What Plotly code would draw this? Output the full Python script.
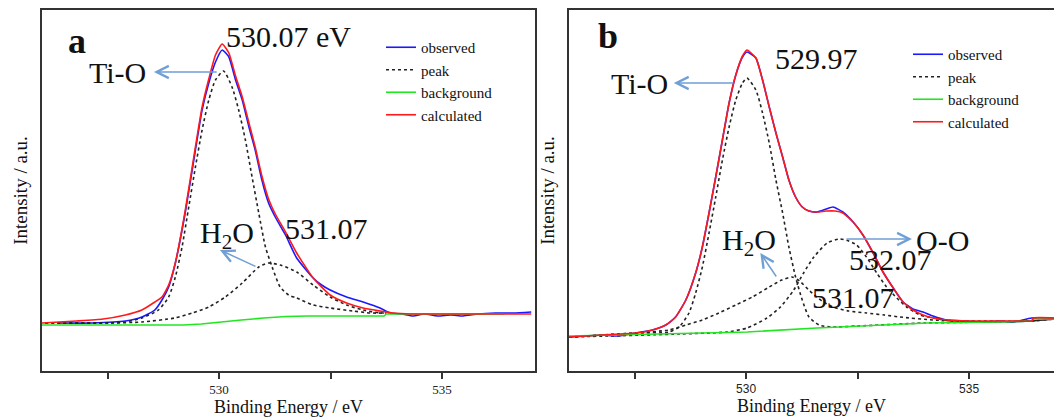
import plotly.graph_objects as go

# ---------------- Panel a data (Binding energy eV, intensity a.u.) ----------------
a_obs_x = [526.4, 527.15, 527.9, 528.27, 528.56, 528.72, 528.87, 529.02, 529.24, 529.47, 529.62, 529.77,
           529.92, 530.07, 530.22, 530.37, 530.52, 530.67, 530.81, 530.96, 531.11, 531.26, 531.49, 531.74,
           532.11, 532.3, 532.49, 532.86, 533.23, 533.61, 533.83, 534.1, 534.35, 534.6, 534.9, 535.2,
           535.47, 535.8, 536.2, 536.6, 537.0]
a_obs_y = [48, 48, 50, 54, 61, 71, 84, 108, 158, 221, 261, 288,
           309, 321, 314, 291, 271, 244, 221, 191, 168, 154, 136, 113,
           93, 86, 81, 74, 69, 63, 58, 57, 55, 57, 55, 56,
           55, 57, 58, 58, 59]

a_calc_x = [526.03, 526.8, 527.4, 527.9, 528.27, 528.56, 528.72, 528.87, 529.02, 529.24, 529.47, 529.62,
            529.77, 529.92, 530.07, 530.22, 530.37, 530.52, 530.67, 530.81, 530.96, 531.11, 531.26, 531.49,
            531.74, 532.11, 532.49, 532.86, 533.23, 533.61, 533.9, 534.3, 535.0, 536.0, 537.0]
a_calc_y = [48, 50, 52, 56, 61, 69, 74, 86, 108, 160, 224, 264,
            292, 316, 327, 318, 295, 274, 248, 224, 195, 172, 157, 139,
            118, 93, 76, 68, 63, 60, 58, 57, 57, 57, 57]

a_bg_x = [526.03, 529.2, 529.6, 530.0, 530.5, 531.0, 531.5, 532.0, 533.7, 533.75, 536.4]
a_bg_y = [46, 46, 47, 49, 51, 53, 54.5, 55, 55, 57, 57]

a_tio_x = [526.1, 527.53, 527.9, 528.27, 528.64, 528.87, 529.02, 529.17, 529.32, 529.47, 529.62, 529.77,
           529.92, 530.1, 530.29, 530.44, 530.59, 530.74, 530.89, 531.04, 531.19, 531.37, 531.56, 531.74,
           532.11, 532.49, 533.0, 533.4, 533.75]
a_tio_y = [48, 48, 49, 53, 61, 74, 94, 124, 164, 204, 241, 271,
           291, 300, 284, 261, 231, 194, 158, 124, 104, 84, 76, 73,
           66, 63, 60, 58, 58]

a_h2o_x = [526.1, 527.53, 528.27, 529.0, 529.4, 529.77, 530.14, 530.52, 530.89, 531.1, 531.37, 531.74,
           532.11, 532.49, 532.86, 533.23, 533.61, 533.75]
a_h2o_y = [48, 48, 49, 53, 58, 64, 74, 88, 104, 108, 106, 99,
           86, 74, 66, 61, 58, 58]

# ---------------- Panel b data ----------------
b_obs_x = [526.03, 526.4, 526.78, 527.1, 527.53, 527.9, 528.2, 528.42, 528.65, 528.87, 529.02, 529.17,
           529.32, 529.47, 529.62, 529.77, 529.92, 530.02, 530.22, 530.37, 530.52, 530.67, 530.82, 530.96,
           531.11, 531.26, 531.41, 531.59, 531.8, 531.95, 532.17, 532.4, 532.62, 532.85, 533.07, 533.3,
           533.52, 533.74, 533.97, 534.19, 534.5, 534.9, 535.3, 535.7, 536.0, 536.4, 536.9]
b_obs_y = [34, 35, 36, 35, 38, 41, 46, 54, 71, 98, 124, 158,
           194, 231, 268, 296, 314, 319, 313, 291, 264, 238, 214, 191,
           174, 164, 160, 159, 162, 164, 159, 149, 136, 118, 99, 83,
           69, 62, 59, 55, 51, 50, 49, 50, 49, 53, 53]

b_calc_x = [526.03, 526.78, 527.53, 527.9, 528.2, 528.42, 528.65, 528.87, 529.02, 529.17, 529.32, 529.47,
            529.62, 529.77, 529.92, 530.02, 530.22, 530.37, 530.52, 530.67, 530.82, 530.96, 531.11, 531.26,
            531.41, 531.59, 531.8, 532.0, 532.17, 532.4, 532.62, 532.85, 533.07, 533.3, 533.52, 533.74,
            533.97, 534.19, 534.5, 535.0, 535.5, 536.0, 536.4, 536.45, 536.9]
b_calc_y = [34, 36, 38, 41, 46, 54, 71, 98, 124, 158, 194, 231,
            268, 296, 315, 321, 313, 291, 264, 238, 214, 191, 174, 164,
            160, 159, 160, 160, 158, 149, 136, 118, 99, 83, 69, 61,
            56, 53, 51, 50, 50, 50, 50, 53, 53]

b_bg_x = [526.03, 528.0, 530.03, 531.59, 532.56, 534.06, 535.55, 536.4, 536.45, 536.9]
b_bg_y = [35, 37, 39, 43, 45, 48, 49, 50, 52, 52]

b_tio_x = [526.03, 527.53, 528.27, 528.5, 528.72, 528.87, 529.02, 529.17, 529.32, 529.47, 529.62, 529.77,
           529.92, 530.02, 530.22, 530.37, 530.52, 530.67, 530.82, 530.96, 531.11, 531.26, 531.41, 531.64,
           531.9, 532.5, 534.0, 535.5, 536.4, 536.9]
b_tio_y = [34, 38, 39, 44, 58, 78, 104, 138, 174, 211, 244, 271,
           288, 293, 281, 258, 228, 191, 158, 124, 94, 71, 54, 46,
           44, 45, 48, 49, 50, 52]

b_h2o_x = [526.03, 527.53, 528.27, 528.65, 529.02, 529.39, 529.77, 530.14, 530.52, 530.8, 531.03, 531.2,
           531.43, 531.7, 531.95, 532.3, 532.7, 533.1, 533.45, 534.19, 535.0, 536.4, 536.9]
b_h2o_y = [34, 38, 41, 46, 51, 58, 66, 74, 84, 91, 94, 90,
           80, 70, 64, 60, 58, 56, 54, 51, 50, 50, 52]

b_oo_x = [526.03, 528.5, 529.57, 530.02, 530.47, 530.77, 531.07, 531.29, 531.52, 531.82, 532.1, 532.3,
          532.48, 532.7, 532.93, 533.15, 533.38, 533.6, 533.9, 534.2, 534.57, 535.5, 536.4, 536.9]
b_oo_y = [34, 37, 39, 43, 53, 64, 81, 98, 114, 128, 132, 130,
          126, 114, 98, 84, 73, 64, 56, 53, 50, 49, 50, 52]

tick_vals = [527.5, 530, 532.5, 535]
tick_text = ["", "530", "", "535"]

SERIF = "Liberation Serif, Times New Roman, serif"
BLUE = "#1a1aff"
RED = "#ff1a1a"
GREEN = "#22e622"
DOT = "#222222"
ARROW = "#6f9fd5"

fig = go.Figure()


def add_panel(xa, ya, legend, obs, peaks, bg, calc):
    fig.add_trace(go.Scatter(x=obs[0], y=obs[1], mode="lines", name="observed",
                             line=dict(color=BLUE, width=1.6, shape="spline", smoothing=0.5),
                             xaxis=xa, yaxis=ya, legend=legend))
    for i, (px, py) in enumerate(peaks):
        fig.add_trace(go.Scatter(x=px, y=py, mode="lines", name="peak", showlegend=(i == 0),
                                 line=dict(color=DOT, width=1.6, dash="dot", shape="spline", smoothing=0.6),
                                 xaxis=xa, yaxis=ya, legend=legend))
    fig.add_trace(go.Scatter(x=bg[0], y=bg[1], mode="lines", name="background",
                             line=dict(color=GREEN, width=1.6),
                             xaxis=xa, yaxis=ya, legend=legend))
    fig.add_trace(go.Scatter(x=calc[0], y=calc[1], mode="lines", name="calculated",
                             line=dict(color=RED, width=1.6, shape="spline", smoothing=0.5),
                             xaxis=xa, yaxis=ya, legend=legend))


add_panel("x", "y", "legend", (a_obs_x, a_obs_y), [(a_tio_x, a_tio_y), (a_h2o_x, a_h2o_y)],
          (a_bg_x, a_bg_y), (a_calc_x, a_calc_y))
add_panel("x2", "y2", "legend2", (b_obs_x, b_obs_y),
          [(b_tio_x, b_tio_y), (b_h2o_x, b_h2o_y), (b_oo_x, b_oo_y)],
          (b_bg_x, b_bg_y), (b_calc_x, b_calc_y))

L, R, T, B = 42, 0, 10, 47
W, H = 1054, 418
PW = W - L - R
px_per_ev = 44.6

xa_common = dict(showgrid=False, zeroline=False, showline=True, linecolor="#333333", linewidth=1.5,
                 mirror=True, ticks="outside", ticklen=6, tickwidth=1.5, tickcolor="#333333",
                 tickvals=tick_vals, ticktext=tick_text,
                 title=dict(text="Binding Energy / eV", font=dict(family=SERIF, size=18, color="#111"),
                            standoff=2))
ya_common = dict(showgrid=False, zeroline=False, showline=True, linecolor="#333333", linewidth=1.5,
                 ticks="", showticklabels=False, range=[0, 361], domain=[0, 1],
                 title=dict(text="Intensity / a.u.", font=dict(family=SERIF, size=19, color="#111"),
                            standoff=8))

xa_dom = [0, (535 - L) / PW]
xb_dom = [(569 - L) / PW, 1]
xa_range = [526.03, 526.03 + (535 - 42) / px_per_ev]
xb_range = [526.03, 526.03 + (1054 - 569) / px_per_ev]

LEGFONT = dict(family=SERIF, size=15, color="#111")
fig.update_layout(
    width=W, height=H, margin=dict(l=L, r=R, t=T, b=B),
    paper_bgcolor="white", plot_bgcolor="white",
    xaxis=dict(xa_common, domain=xa_dom, range=xa_range, anchor="y",
               tickfont=dict(family=SERIF, size=13, color="#222")),
    yaxis=dict(ya_common, anchor="x", mirror=True),
    xaxis2=dict(xa_common, domain=xb_dom, range=xb_range, anchor="y2",
                tickfont=dict(family="Liberation Sans, Arial, sans-serif", size=12, color="#222")),
    yaxis2=dict(ya_common, anchor="x2", mirror=False),
    legend=dict(x=(381 - L) / PW, y=(371 - 31) / 361, xanchor="left", yanchor="top",
                bgcolor="rgba(0,0,0,0)", font=LEGFONT, tracegroupgap=0, itemwidth=30),
    legend2=dict(x=(908 - L) / PW, y=(371 - 38) / 361, xanchor="left", yanchor="top",
                 bgcolor="rgba(0,0,0,0)", font=LEGFONT, tracegroupgap=0, itemwidth=30),
    showlegend=True,
)

TXT = dict(family=SERIF, size=30, color="#111")
ann = []


def text(xr, yr, x, y, s, anchor="left", font=TXT):
    ann.append(dict(xref=xr, yref=yr, x=x, y=y, text=s, showarrow=False,
                    xanchor=anchor, yanchor="middle", font=font))


def arrow(xr, yr, head, tail):
    ann.append(dict(xref=xr, yref=yr, x=head[0], y=head[1], ax=tail[0], ay=tail[1],
                    axref=xr, ayref=yr, text="", showarrow=True, arrowhead=5, arrowsize=1.6,
                    arrowwidth=1.5, arrowcolor=ARROW, standoff=0, startstandoff=0))


BOLD = dict(family=SERIF, size=36, color="#111", weight="bold")
# panel a
text("x", "y", 526.82, 330, "a", "center", BOLD)
text("x", "y", 530.11, 335, "530.07 eV")
text("x", "y", 528.41, 299, "Ti-O", "right")
arrow("x", "y", (528.54, 299), (529.98, 299))
text("x", "y", 529.53, 136, "H<sub>2</sub>O")
arrow("x", "y", (530.02, 121), (530.85, 104))
text("x", "y", 531.43, 143, "531.07")
# panel b
text("x2", "y2", 526.90, 335, "b", "center", BOLD)
text("x2", "y2", 530.61, 313, "529.97")
text("x2", "y2", 528.30, 288, "Ti-O", "right")
arrow("x2", "y2", (528.38, 288), (529.75, 288))
text("x2", "y2", 529.42, 129, "H<sub>2</sub>O")
arrow("x2", "y2", (530.32, 118), (530.70, 93))
text("x2", "y2", 531.43, 74, "531.07")
text("x2", "y2", 532.26, 112, "532.07")
arrow("x2", "y2", (533.72, 132), (532.22, 132))
text("x2", "y2", 533.77, 131, "O-O")

fig.update_layout(annotations=ann)
fig.write_html("out.html")
